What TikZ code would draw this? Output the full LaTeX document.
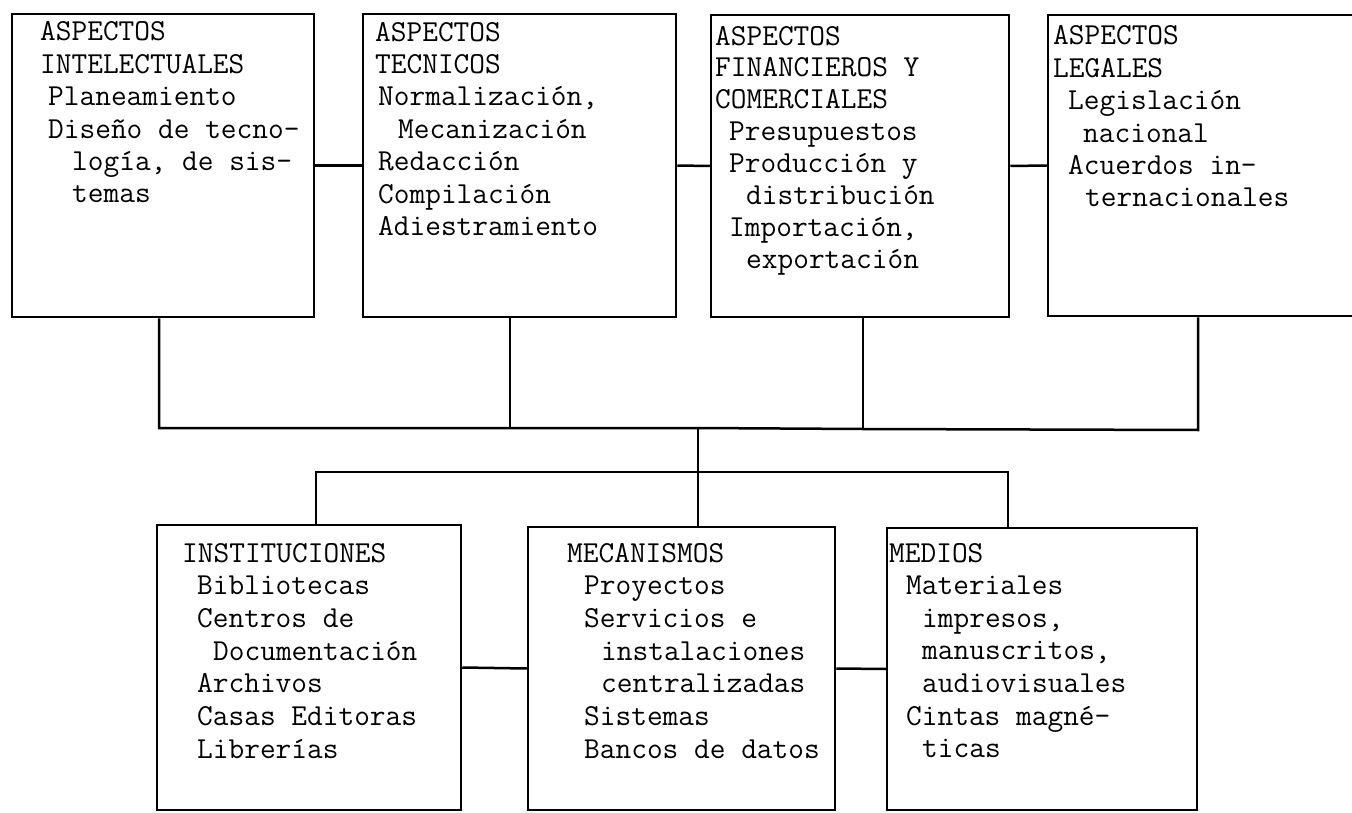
\documentclass[tikz,border=0pt]{standalone}
\begin{document}
\begin{tikzpicture}[x=1pt,y=-1pt,
  box/.style={draw, line width=2.5pt, rectangle, inner sep=0pt},
  txt/.style={anchor=base west, inner sep=0pt, align=left, font=\fontsize{30.5}{32.4}\selectfont\ttfamily},
  link/.style={line width=2.5pt}]
\useasboundingbox (0,0) rectangle (1352,813);
\clip (0,0) rectangle (1352,813);
% top row boxes
\node[box, minimum width=302pt, minimum height=303pt] (box1) at (163,165.5) {};
\node[box, minimum width=313pt, minimum height=303pt] (box2) at (519.5,165.5) {};
\node[box, minimum width=298pt, minimum height=302pt] (box3) at (860,166) {};
\node[box, minimum width=352pt, minimum height=301pt] (box4) at (1224,165.5) {};
% bottom row boxes
\node[box, minimum width=304pt, minimum height=285pt] (inst) at (309,667.5) {};
\node[box, minimum width=307pt, minimum height=283pt] (mec) at (681.5,668.5) {};
\node[box, minimum width=310pt, minimum height=282pt] (medios) at (1042,669) {};
% texts (anchored at the baseline of their last line)
\node[txt] (t1) at (40,203) {ASPECTOS\\INTELECTUALES\\\hspace*{8pt}Planeamiento\\\hspace*{8pt}Diseño de tecno-\\\hspace*{32pt}logía, de sis-\\\hspace*{32pt}temas};
\node[txt] (t2) at (375,235.4) {ASPECTOS\\TECNICOS\\\hspace*{3pt}Normalización,\\\hspace*{23pt}Mecanización\\\hspace*{3pt}Redacción\\\hspace*{3pt}Compilación\\\hspace*{3pt}Adiestramiento};
\node[txt, font=\fontsize{30.5}{31.9}\selectfont\ttfamily] (t3) at (715,268.3) {ASPECTOS\\FINANCIEROS Y\\COMERCIALES\\\hspace*{14pt}Presupuestos\\\hspace*{14pt}Producción y\\\hspace*{31pt}distribución\\\hspace*{14pt}Importación,\\\hspace*{31pt}exportación};
\node[txt] (t4) at (1053,207) {ASPECTOS\\LEGALES\\\hspace*{15pt}Legislación\\\hspace*{30pt}nacional\\\hspace*{15pt}Acuerdos in-\\\hspace*{32pt}ternacionales};
\node[txt, font=\fontsize{30.5}{32.7}\selectfont\ttfamily] (t5) at (182,758.2) {INSTITUCIONES\\\hspace*{15pt}Bibliotecas\\\hspace*{15pt}Centros de\\\hspace*{31pt}Documentación\\\hspace*{15pt}Archivos\\\hspace*{15pt}Casas Editoras\\\hspace*{15pt}Librerías};
\node[txt, font=\fontsize{30.5}{32.7}\selectfont\ttfamily] (t6) at (567,758.2) {MECANISMOS\\\hspace*{17pt}Proyectos\\\hspace*{17pt}Servicios e\\\hspace*{34pt}instalaciones\\\hspace*{34pt}centralizadas\\\hspace*{17pt}Sistemas\\\hspace*{17pt}Bancos de datos};
\node[txt, font=\fontsize{30.5}{32.6}\selectfont\ttfamily] (t7) at (889,757.6) {MEDIOS\\\hspace*{17pt}Materiales\\\hspace*{33pt}impresos,\\\hspace*{33pt}manuscritos,\\\hspace*{33pt}audiovisuales\\\hspace*{17pt}Cintas magné-\\\hspace*{33pt}ticas};
% horizontal links between neighbours
\draw[link] (box1.east) -- (box2.west);
\draw[link] (box2.east) -- (box3.west);
\draw[link] (box3.east) -- (box4.west);
\draw[link] (inst.east) -- (mec.west);
\draw[link] (mec.east) -- (medios.west);
% upper bus
\coordinate (j1) at (159,428);
\coordinate (j2) at (510,428);
\coordinate (hub) at (698,428);
\coordinate (j3) at (863,429);
\coordinate (j4) at (1198,430);
\draw[link] (box1.south -| j1) -- (j1) -- (j2) -- (hub) -- (j3) -- (j4) -- (box4.south -| j4);
\draw[link] (box2.south -| j2) -- (j2);
\draw[link] (box3.south -| j3) -- (j3);
% lower bus
\coordinate (k1) at (316,472);
\coordinate (k3) at (1008,472);
\draw[link] (hub) -- (mec.north -| hub);
\draw[link] (inst.north -| k1) -- (k1) -- (k3) -- (medios.north -| k3);
\end{tikzpicture}
\end{document}
